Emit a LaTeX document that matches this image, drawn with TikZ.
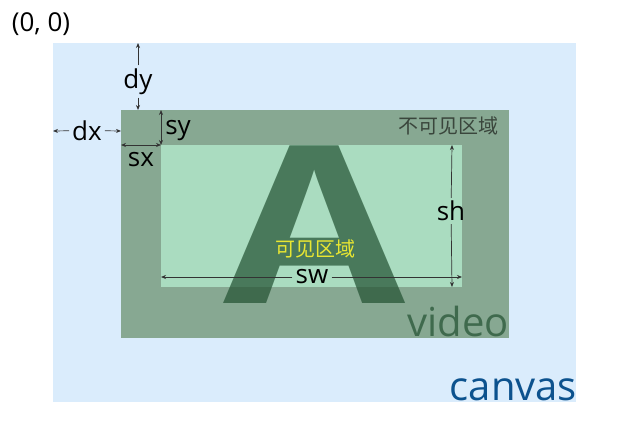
\documentclass[tikz,border=0pt]{standalone}
\usepackage{fontspec}
\setmainfont{Open Sans}
\newfontfamily\cjk{Noto Sans CJK SC}
\usetikzlibrary{arrows.meta,positioning}
\definecolor{canvasCol}{RGB}{218,236,252}
\definecolor{videoCol}{RGB}{135,168,146}
\definecolor{seenCol}{RGB}{170,220,192}
\definecolor{glyphCol}{RGB}{33,80,49}
\definecolor{blueCol}{RGB}{12,82,142}
\definecolor{yelCol}{RGB}{232,230,50}
\definecolor{hideCol}{RGB}{58,70,60}
\tikzset{
  area/.style={inner sep=0pt,outer sep=0pt},
  lbl/.style={font=\fontsize{26}{30}\selectfont,inner sep=3pt,text=black},
  cjklab/.style={font=\cjk\fontsize{20}{24}\selectfont,inner sep=0pt},
  dimto/.style={-{Stealth[length=5pt,width=4pt]},line width=0.7pt,black!80},
  dimboth/.style={{Stealth[length=5pt,width=4pt]}-{Stealth[length=5pt,width=4pt]},line width=0.7pt,black!80},
}

\begin{document}
\begin{tikzpicture}[x=1pt,y=-1pt]
  \useasboundingbox (0,0) rectangle (623,428);
  % frames
  \node[area,fill=canvasCol,minimum width=523pt,minimum height=359pt] (canvas) at (314.5,222.5) {};
  \node[area,fill=videoCol,minimum width=388pt,minimum height=228pt] (video) at (315,224) {};
  \node[area,fill=seenCol,minimum width=301pt,minimum height=142pt] (seen) at (311.5,216) {};
  \node[area,anchor=base,xscale=1.2,text=glyphCol,text opacity=0.7,
        font=\bfseries\fontsize{220}{220}\selectfont] (glyph) at (315,303) {A};
  % texts
  \node[font=\fontsize{26}{30}\selectfont] (origin) at (41,24) {(0, 0)};
  \node[cjklab,text=hideCol] (hidden) at (448,125.5) {不可见区域};
  \node[cjklab,text=yelCol] (shown) at (315,249) {可见区域};
  \node[area,anchor=base east,text=glyphCol,text opacity=0.7,
        font=\fontsize{40}{44}\selectfont] (vid) at (509,336) {video};
  \node[area,anchor=base east,text=blueCol,
        font=\fontsize{40}{44}\selectfont] (cnv) at (577,400) {canvas};
  % offsets
  \coordinate (dyT) at (138,43);
  \coordinate (dyB) at (138,110);
  \coordinate (dxL) at (53,131);
  \coordinate (dxR) at (121,131);
  \node[lbl] (dy) at (138,81.5) {dy};
  \node[lbl] (dx) at (87,130.5) {dx};
  \draw[dimto] (dy) -- (dyT);
  \draw[dimto] (dy) -- (dyB);
  \draw[dimto] (dx) -- (dxL);
  \draw[dimto] (dx) -- (dxR);
  % visible part
  \coordinate (syT) at (161,110);
  \coordinate (syB) at (161,145);
  \coordinate (sxL) at (121,145);
  \coordinate (sxR) at (161,145);
  \draw[dimboth] (syT) -- (syB);
  \draw[dimboth] (sxL) -- (sxR);
  \node[lbl] (sy) at (178,131) {sy};
  \node[lbl] (sx) at (141,159.5) {sx};
  \coordinate (shT) at (452,145);
  \coordinate (shB) at (452,287);
  \coordinate (swL) at (161,277);
  \coordinate (swR) at (462,277);
  \node[lbl] (sh) at (451,211) {sh};
  \node[lbl] (sw) at (312,277) {sw};
  \draw[dimto] (sh) -- (shT);
  \draw[dimto] (sh) -- (shB);
  \draw[dimto] (sw) -- (swL);
  \draw[dimto] (sw) -- (swR);
\end{tikzpicture}
\end{document}
